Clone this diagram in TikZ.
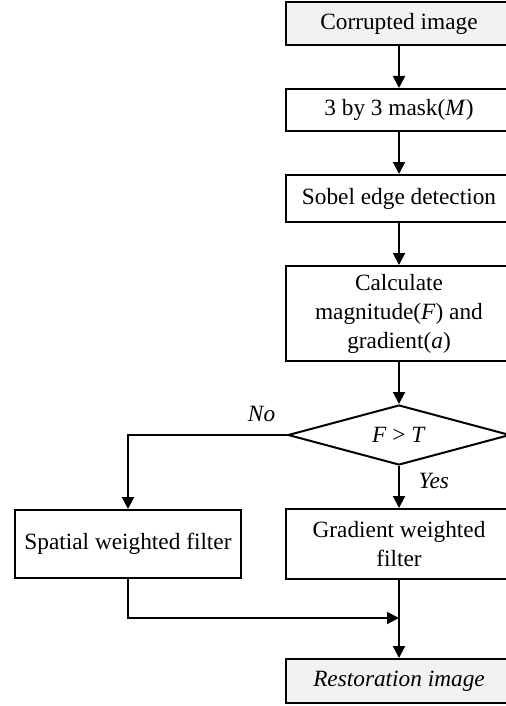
\documentclass[tikz,border=0pt]{standalone}
\usepackage{fontspec}
\setmainfont{Liberation Serif}
\usetikzlibrary{positioning,arrows.meta,shapes.geometric}

\begin{document}
\begin{tikzpicture}[font=\fontsize{11.65}{14.5}\selectfont, >={Triangle[length=6pt,width=6pt]},
  node distance=21pt, line width=1pt,
  box/.style={draw, align=center, minimum width=113pt, inner sep=2pt},
  term/.style={box, fill=black!5},
  decide/.style={draw, diamond, aspect=3.7, minimum width=111pt, minimum height=30pt, inner sep=0pt}]
\useasboundingbox (0,0) rectangle (252.5pt,-353pt);
\node[term, minimum height=21.5pt] (corrupt) at (199.5pt,-11.75pt) {Corrupted image};
\node[box, minimum height=21pt, below=of corrupt] (mask) {3 by 3 mask(\textit{M})};
\node[box, minimum height=23.5pt, below=of mask] (sobel) {Sobel edge detection};
\node[box, minimum height=47.5pt, below=of sobel] (calcmag) {Calculate\\magnitude(\textit{F}) and\\gradient(\textit{a})};
\node[decide, below=of calcmag] (test) {\textit{F} > \textit{T}};
\node[box, minimum height=35pt, below=of test] (grad) {Gradient weighted\\filter};
\node[box, minimum height=34pt, left=21.5pt of grad] (spatial) {Spatial weighted filter};
\coordinate[below=19pt of grad] (join);
\node[term, minimum height=22pt, below=39pt of grad] (restore) {\textit{Restoration image}};
\draw[->] (corrupt) -- (mask);
\draw[->] (mask) -- (sobel);
\draw[->] (sobel) -- (calcmag);
\draw[->] (calcmag) -- (test);
\draw[->] (test.west) -| node[pos=0.08, above=3pt] {\textit{No}} (spatial);
\draw[->] (test) -- node[pos=0.35, right=6pt] {\textit{Yes}} (grad);
\draw[->] (grad) -- (restore);
\draw[->] (spatial) |- (join);
\end{tikzpicture}
\end{document}
